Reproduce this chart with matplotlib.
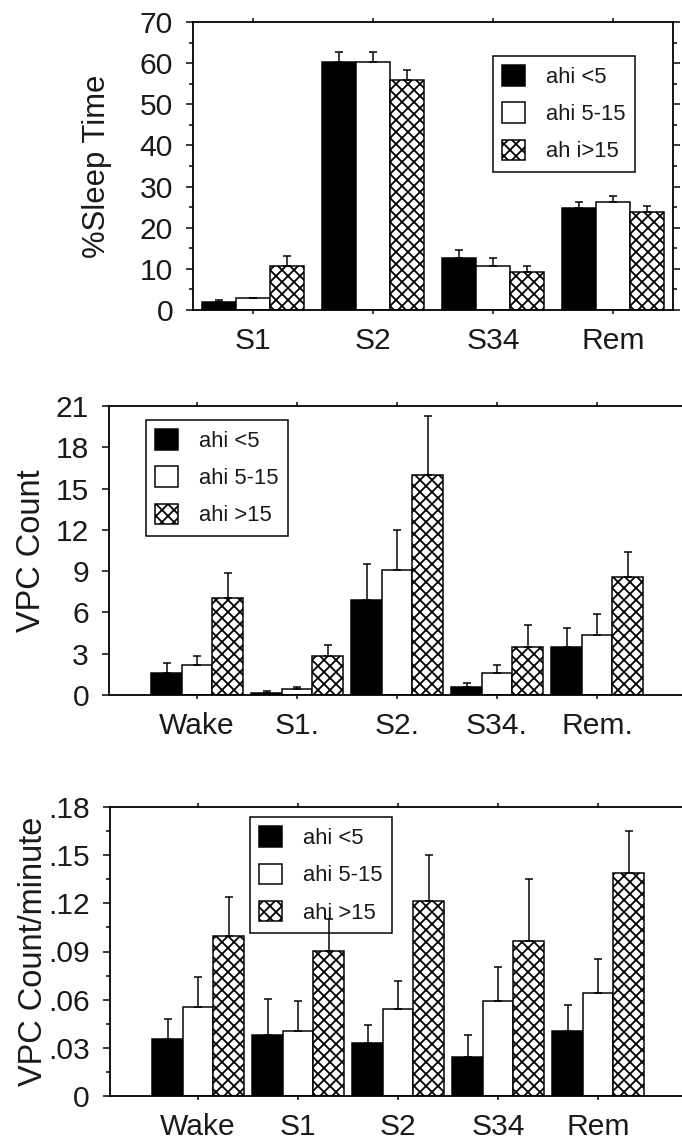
import numpy as np
import matplotlib
matplotlib.use("Agg")
import matplotlib.pyplot as plt
from matplotlib.ticker import FixedLocator, FuncFormatter

plt.rcParams['font.family'] = ['Liberation Sans', 'DejaVu Sans']
plt.rcParams['hatch.linewidth'] = 1.8
plt.rcParams['hatch.color'] = 'black'

# ---------------- data ----------------
groups1 = ["S1", "S2", "S34", "Rem"]
labels1 = ["ahi <5", "ahi 5-15", "ah i>15"]
sleep_low = [2.0, 60.3, 12.7, 24.8]
sleep_mid = [2.8, 60.3, 10.8, 26.3]
sleep_high = [10.8, 56.0, 9.3, 23.9]
sleep_low_err = [0.4, 2.4, 1.9, 1.5]
sleep_mid_err = [0.1, 2.4, 1.9, 1.5]
sleep_high_err = [2.3, 2.3, 1.4, 1.4]

groups2 = ["Wake", "S1.", "S2.", "S34.", "Rem."]
labels2 = ["ahi <5", "ahi 5-15", "ahi >15"]
count_low = [1.63, 0.17, 6.87, 0.60, 3.52]
count_mid = [2.18, 0.41, 9.05, 1.58, 4.37]
count_high = [7.04, 2.80, 15.95, 3.52, 8.60]
count_low_err = [0.72, 0.13, 2.63, 0.25, 1.33]
count_mid_err = [0.62, 0.15, 2.95, 0.60, 1.50]
count_high_err = [1.86, 0.84, 4.35, 1.58, 1.80]

groups3 = ["Wake", "S1", "S2", "S34", "Rem"]
labels3 = ["ahi <5", "ahi 5-15", "ahi >15"]
rate_low = [0.0358, 0.0379, 0.0331, 0.0244, 0.0404]
rate_mid = [0.0552, 0.0404, 0.0544, 0.0594, 0.0640]
rate_high = [0.0994, 0.0904, 0.1217, 0.0967, 0.1390]
rate_low_err = [0.0122, 0.0225, 0.0109, 0.0135, 0.0163]
rate_mid_err = [0.0188, 0.0186, 0.0173, 0.0212, 0.0214]
rate_high_err = [0.0246, 0.0196, 0.0283, 0.0383, 0.0260]

W, H = 682, 1140
DPI = 72
fig = plt.figure(figsize=(W / DPI, H / DPI), dpi=DPI)
TXT = '#1a1a1a'


def rect(l, t, r, b):
    return [l / W, 1 - b / H, (r - l) / W, (b - t) / H]


def panel(ax, groups, series, errs, labels, bw, xlim, ylim, major, minor,
          fmt, ylabel, ylabel_x, leg_xy, ylabel_size):
    x = np.arange(len(groups))
    styles = [dict(color='black'), dict(color='white'), dict(color='white', hatch='xx')]
    handles = []
    for i, (vals, er, st) in enumerate(zip(series, errs, styles)):
        xi = x + (i - 1) * bw
        b = ax.bar(xi, vals, bw, edgecolor='black', linewidth=1.5, zorder=2, **st)
        handles.append(b)
        ax.errorbar(xi, vals, yerr=[np.zeros(len(vals)), er], fmt='none',
                    ecolor='black', elinewidth=1.5, capsize=4, capthick=1.5, zorder=3)
    ax.set_xlim(*xlim)
    ax.set_ylim(*ylim)
    ax.set_xticks(x)
    ax.set_xticklabels(groups)
    ax.yaxis.set_major_locator(FixedLocator(major))
    if minor is not None:
        ax.yaxis.set_minor_locator(FixedLocator(minor))
    ax.yaxis.set_major_formatter(FuncFormatter(fmt))
    ax.tick_params(axis='y', which='major', direction='out', length=7, width=1.5,
                   labelsize=30, pad=13, right=True, labelcolor=TXT)
    ax.tick_params(axis='y', which='minor', direction='out', length=4, width=1.5,
                   right=True)
    ax.tick_params(axis='x', which='major', direction='out', length=4, width=1.5,
                   labelsize=30, pad=13, top=True, labelcolor=TXT)
    for s in ax.spines.values():
        s.set_linewidth(1.8)
    ax.set_ylabel(ylabel, fontsize=ylabel_size, color=TXT)
    ax.yaxis.set_label_coords(ylabel_x, 0.5)
    leg = ax.legend(handles, labels, loc='upper left', bbox_to_anchor=leg_xy,
                    fontsize=22, frameon=True, fancybox=False, edgecolor='black',
                    framealpha=1, handlelength=1.05, handleheight=1.05,
                    handletextpad=0.95, labelspacing=0.66, borderpad=0.42,
                    borderaxespad=0)
    leg.get_frame().set_linewidth(1.5)
    for t in leg.get_texts():
        t.set_color(TXT)
    leg.set_zorder(2.5)


ax1 = fig.add_axes(rect(193, 22, 673, 310))
panel(ax1, groups1, [sleep_low, sleep_mid, sleep_high],
      [sleep_low_err, sleep_mid_err, sleep_high_err], labels1, 0.285,
      (-0.5, 3.5), (0, 70), np.arange(0, 71, 10), np.arange(5, 70, 10),
      lambda v, p: f"{v:.0f}", "%Sleep Time", -0.168, (0.625, 0.882), 31)

ax2 = fig.add_axes(rect(109, 406, 685, 695))
panel(ax2, groups2, [count_low, count_mid, count_high],
      [count_low_err, count_mid_err, count_high_err], labels2, 0.305,
      (-0.88, 4.88), (0, 21), np.arange(0, 22, 3), None,
      lambda v, p: f"{v:.0f}", "VPC Count", -0.108, (0.064, 0.952), 32.5)

def ratefmt(v, p):
    if abs(v) < 1e-9:
        return "0"
    return f"{v:.2f}".lstrip('0')

ax3 = fig.add_axes(rect(110, 807, 686, 1096))
panel(ax3, groups3, [rate_low, rate_mid, rate_high],
      [rate_low_err, rate_mid_err, rate_high_err], labels3, 0.305,
      (-0.88, 4.88), (0, 0.18), np.round(np.arange(0, 0.181, 0.03), 3),
      np.round(np.arange(0.015, 0.18, 0.03), 3),
      ratefmt, "VPC Count/minute", -0.106, (0.243, 0.965), 32.5)

fig.savefig("out.png", dpi=DPI)
